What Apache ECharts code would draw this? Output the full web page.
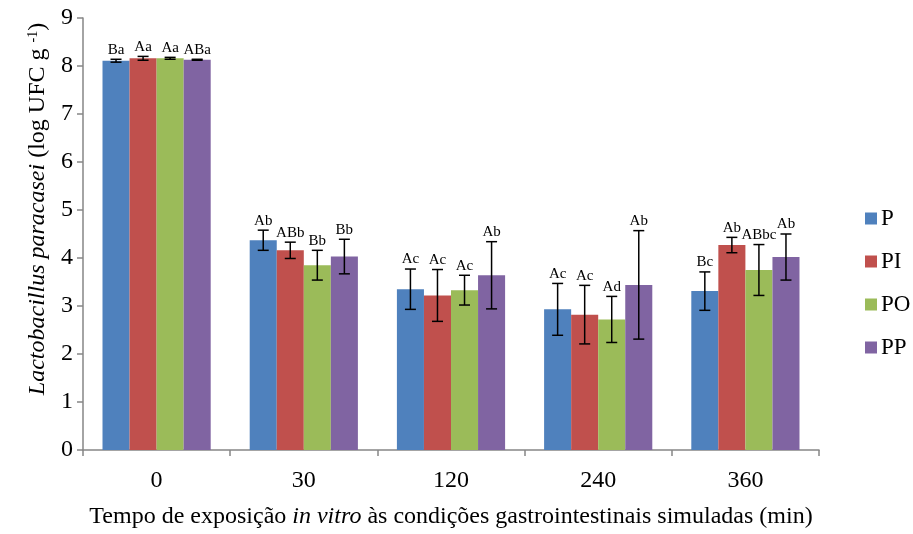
<!DOCTYPE html>
<html>
<head>
<meta charset="utf-8">
<script src="https://cdn.jsdelivr.net/npm/echarts@6/dist/echarts.min.js"></script>
<style>
  html, body { margin: 0; padding: 0; background: #fff; }
  #main { width: 913px; height: 534px; }
</style>
</head>
<body>
<div id="main"></div>
<script>
// tempos de exposição (min)
var tempos = ['0', '30', '120', '240', '360'];
var grupos = ['P', 'PI', 'PO', 'PP'];
var cores = ['#4F81BD', '#C0504D', '#9BBB59', '#8064A2'];

// médias (log UFC/g)
var mediaP  = [8.11, 4.37, 3.35, 2.93, 3.31];
var mediaPI = [8.16, 4.16, 3.22, 2.82, 4.27];
var mediaPO = [8.16, 3.85, 3.33, 2.72, 3.75];
var mediaPP = [8.13, 4.03, 3.64, 3.44, 4.02];

// desvio padrão
var dpP  = [0.03, 0.21, 0.42, 0.54, 0.40];
var dpPI = [0.04, 0.17, 0.54, 0.61, 0.16];
var dpPO = [0.02, 0.31, 0.31, 0.48, 0.53];
var dpPP = [0.01, 0.36, 0.70, 1.13, 0.48];

// letras de significância
var letrasP  = ['Ba', 'Ab', 'Ac', 'Ac', 'Bc'];
var letrasPI = ['Aa', 'ABb', 'Ac', 'Ac', 'Ab'];
var letrasPO = ['Aa', 'Bb', 'Ac', 'Ad', 'ABbc'];
var letrasPP = ['ABa', 'Bb', 'Ab', 'Ab', 'Ab'];

var medias = [mediaP, mediaPI, mediaPO, mediaPP];
var dps = [dpP, dpPI, dpPO, dpPP];
var letras = [letrasP, letrasPI, letrasPO, letrasPP];

var fonte = '"Liberation Serif", "Times New Roman", serif';
var gapCat = 0.265;

var chart = echarts.init(document.getElementById('main'));

var series = [];
for (var s = 0; s < 4; s++) {
  series.push({
    name: grupos[s],
    type: 'bar',
    data: medias[s],
    barGap: '0%',
    barCategoryGap: (gapCat * 100) + '%',
    itemStyle: { color: cores[s] },
    z: 2
  });
}

// barras de erro + letras
for (var s = 0; s < 4; s++) {
  (function (idx) {
    var dados = tempos.map(function (t, i) {
      return [i, medias[idx][i], dps[idx][i], letras[idx][i]];
    });
    series.push({
      type: 'custom',
      name: grupos[idx] + '_erro',
      data: dados,
      z: 10,
      silent: true,
      renderItem: function (params, api) {
        var i = api.value(0);
        var m = api.value(1);
        var d = api.value(2);
        var band = api.size([1, 0])[0];
        var bw = band * (1 - gapCat) / 4;
        var off = (idx - 1.5) * bw;
        var topo = api.coord([i, m + d]);
        var base = api.coord([i, m - d]);
        var x = topo[0] + off;
        var cap = 5.5;
        var st = { stroke: '#000', lineWidth: 1.5 };
        return {
          type: 'group',
          children: [
            { type: 'line', shape: { x1: x, y1: topo[1], x2: x, y2: base[1] }, style: st },
            { type: 'line', shape: { x1: x - cap, y1: topo[1], x2: x + cap, y2: topo[1] }, style: st },
            { type: 'line', shape: { x1: x - cap, y1: base[1], x2: x + cap, y2: base[1] }, style: st },
            {
              type: 'text',
              style: {
                x: x, y: topo[1] - 2,
                text: api.value(3),
                align: 'center', verticalAlign: 'bottom',
                font: '15px ' + fonte, fill: '#000'
              }
            }
          ]
        };
      }
    });
  })(s);
}

var option = {
  animation: false,
  backgroundColor: '#fff',
  textStyle: { fontFamily: fonte },
  grid: { left: 83, right: 94, top: 18, bottom: 83 },
  legend: {
    data: grupos,
    orient: 'vertical',
    left: 860,
    top: 202,
    itemWidth: 12,
    itemHeight: 12,
    itemGap: 20,
    icon: 'rect',
    textStyle: { fontFamily: fonte, fontSize: 23, lineHeight: 23, color: '#000', padding: [0, 0, 0, -1] }
  },
  xAxis: {
    type: 'category',
    data: tempos,
    axisLine: { lineStyle: { color: '#868686', width: 1.5 } },
    axisTick: { show: true, length: 6, lineStyle: { color: '#868686', width: 1.5 } },
    axisLabel: { fontFamily: fonte, fontSize: 24, color: '#000', margin: 19 },
    name: '{n|Tempo de exposição }{i|in vitro}{n| às condições gastrointestinais simuladas (min)}',
    nameLocation: 'middle',
    nameGap: 55,
    nameTextStyle: {
      rich: {
        n: { fontFamily: fonte, fontSize: 24, color: '#000' },
        i: { fontFamily: fonte, fontSize: 24, fontStyle: 'italic', color: '#000' }
      }
    }
  },
  yAxis: {
    type: 'value',
    min: 0,
    max: 9,
    interval: 1,
    splitLine: { show: false },
    axisLine: { show: true, lineStyle: { color: '#868686', width: 1.5 } },
    axisTick: { show: true, length: 6, lineStyle: { color: '#868686', width: 1.5 } },
    axisLabel: { fontFamily: fonte, fontSize: 24, color: '#000', margin: 10 },
    name: '{i|Lactobacillus paracasei}{n| (log UFC g }{s|-1}{n|)}',
    nameLocation: 'middle',
    nameGap: 28,
    nameRotate: 90,
    nameTextStyle: {
      padding: [0, 0, 0, 50],
      rich: {
        n: { fontFamily: fonte, fontSize: 24, color: '#000' },
        i: { fontFamily: fonte, fontSize: 24, fontStyle: 'italic', color: '#000' },
        s: { fontFamily: fonte, fontSize: 14, color: '#000', verticalAlign: 'top', padding: [0, 0, 10, 0] }
      }
    }
  },
  series: series
};

chart.setOption(option);
</script>
</body>
</html>
